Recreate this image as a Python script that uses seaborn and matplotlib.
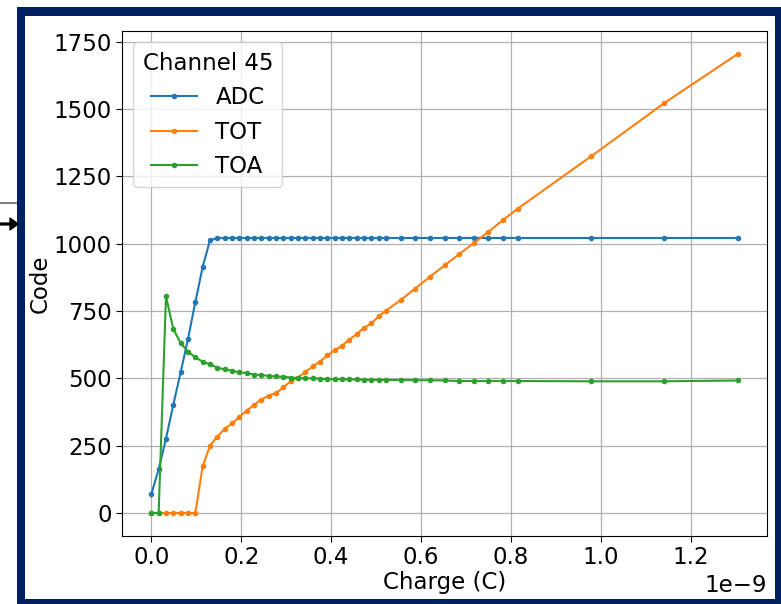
import numpy as np
import pandas as pd
import matplotlib
matplotlib.use("Agg")
import matplotlib.pyplot as plt
import seaborn as sns
from matplotlib.patches import Rectangle, FancyArrow
from matplotlib.lines import Line2D

# Charge values in units of 1e-9 C
charge = [0.0, 0.0163, 0.0326, 0.0489, 0.0652, 0.0815, 0.0978, 0.1141, 0.1304,
          0.1467, 0.163, 0.1793, 0.1956, 0.2119, 0.2282, 0.2445, 0.2608, 0.2771,
          0.2934, 0.3097, 0.326, 0.3423, 0.3586, 0.3749, 0.3912, 0.4075, 0.4238,
          0.4401, 0.4564, 0.4727, 0.489, 0.5053, 0.5216, 0.5542, 0.5868, 0.6194,
          0.652, 0.6846, 0.7172, 0.7498, 0.7824, 0.815, 0.978, 1.141, 1.304]

adc = [70, 163, 276, 402, 522, 646, 782, 913, 1012,
       1021, 1021, 1021, 1021, 1021, 1021, 1021, 1021, 1021,
       1021, 1021, 1021, 1021, 1021, 1021, 1021, 1021, 1021,
       1021, 1021, 1021, 1021, 1021, 1021, 1021, 1021, 1021,
       1021, 1021, 1021, 1021, 1021, 1021, 1021, 1021, 1021]

tot = [0, 0, 0, 0, 0, 0, 0, 173, 250,
       284, 312, 333, 356, 380, 401, 421, 436, 445,
       466, 489, 503, 523, 544, 562, 585, 604, 621,
       643, 664, 687, 704, 730, 751, 790, 833, 877,
       919, 961, 1002, 1044, 1088, 1130, 1324, 1522, 1704]

toa = [0, 0, 804, 683, 631, 599, 578, 562, 552,
       540, 533, 529, 522, 520, 514, 512, 509, 507,
       506, 503, 501, 500, 500, 499, 497, 497, 497,
       496, 496, 494, 494, 494, 494, 494, 493, 493,
       492, 490, 490, 490, 490, 490, 489, 489, 492]

series_names = ["ADC", "TOT", "TOA"]
legend_title = "Channel 45"

df = pd.concat([
    pd.DataFrame({"Charge": np.array(charge) * 1e-9, "Code": vals, "Series": name})
    for name, vals in zip(series_names, [adc, tot, toa])
], ignore_index=True)

W, H = 781, 604
fig = plt.figure(figsize=(W / 100, H / 100), dpi=100)
fig.patch.set_facecolor("white")

def fx(px):
    return px / W

def fy(py):
    return 1 - py / H

# screenshot frame
navy = "#002060"
fig.add_artist(Rectangle((fx(17), 0), fx(781) - fx(17), fy(7), transform=fig.transFigure,
                         facecolor=navy, edgecolor="none", zorder=0))
fig.add_artist(Rectangle((fx(25), fy(599)), fx(775) - fx(25), fy(16) - fy(599),
                         transform=fig.transFigure, facecolor="white", edgecolor="none", zorder=0.1))
fig.add_artist(Line2D([0, fx(16)], [fy(203), fy(203)], transform=fig.transFigure,
                      color="#808080", lw=1.5, zorder=1))
fig.add_artist(FancyArrow(fx(0), fy(224), fx(10), 0, width=0.003, head_width=0.02,
                          head_length=fx(8), length_includes_head=False,
                          transform=fig.transFigure, color="black", zorder=1))

ax = fig.add_axes([fx(122), fy(536), fx(767) - fx(122), fy(31) - fy(536)])
ax.set_zorder(2)

sns.lineplot(data=df, x="Charge", y="Code", hue="Series", hue_order=series_names,
             palette=["#1f77b4", "#ff7f0e", "#2ca02c"], marker="o", markersize=4,
             markeredgewidth=0, linewidth=1.5, ax=ax, sort=False, legend=True)

FS = 16.5
ax.grid(True, color="#b0b0b0", linewidth=0.9)
ax.set_axisbelow(True)
ax.set_yticks([0, 250, 500, 750, 1000, 1250, 1500, 1750])
ax.set_xticks(np.array([0.0, 0.2, 0.4, 0.6, 0.8, 1.0, 1.2]) * 1e-9)
ax.tick_params(labelsize=FS, length=4)
ax.xaxis.get_offset_text().set_fontsize(FS)
ax.set_xlabel("Charge (C)", fontsize=FS, labelpad=1)
ax.set_ylabel("Code", fontsize=FS, labelpad=1)

leg = ax.legend(title=legend_title, loc="upper left", fontsize=FS, title_fontsize=FS,
                frameon=True, borderaxespad=0.5, labelspacing=0.5, handlelength=2.0)

fig.savefig("out.png", dpi=100)
